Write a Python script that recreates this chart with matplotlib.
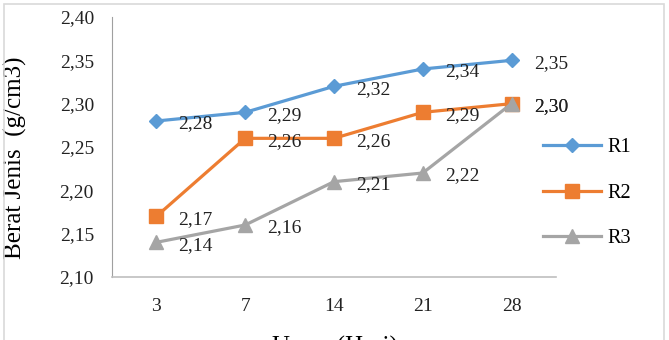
import matplotlib
matplotlib.use("Agg")
import matplotlib.pyplot as plt
from matplotlib.patches import Rectangle

# data
days = ["3", "7", "14", "21", "28"]
r1 = [2.28, 2.29, 2.32, 2.34, 2.35]
r2 = [2.17, 2.26, 2.26, 2.29, 2.30]
r3 = [2.14, 2.16, 2.21, 2.22, 2.30]
series_names = ["R1", "R2", "R3"]
yticks = [2.10, 2.15, 2.20, 2.25, 2.30, 2.35, 2.40]

colors = ["#5B9BD5", "#ED7D31", "#A5A5A5"]
markers = ["D", "s", "^"]
msizes = [7, 10, 10]

plt.rcParams["font.family"] = ["Liberation Serif", "DejaVu Serif"]

fig = plt.figure(figsize=(6.69, 3.40), dpi=100)
ax = fig.add_axes([0.1674, 0.1853, 0.6636, 0.7647])

x = list(range(len(days)))
for vals, name, c, m, ms in zip([r1, r2, r3], series_names, colors, markers, msizes):
    ax.plot(x, vals, color=c, lw=2.3, marker=m, markersize=ms, label=name)
    for xi, v in zip(x, vals):
        ax.annotate(("%.2f" % v).replace(".", ","), (xi, v), xytext=(16, -2),
                    textcoords="offset points", ha="left", va="center",
                    fontsize=14, color="#222222")

ax.set_xlim(-0.5, len(days) - 0.5)
ax.set_ylim(2.10, 2.40)
ax.set_xticks(x)
ax.set_xticklabels(days)
ax.set_yticks(yticks)
ax.set_yticklabels([("%.2f" % t).replace(".", ",") for t in yticks])
ax.tick_params(length=0, labelsize=14, labelcolor="#222222")
ax.tick_params(axis="x", pad=15)
ax.tick_params(axis="y", pad=13)
for s in ["top", "right"]:
    ax.spines[s].set_visible(False)
ax.spines["left"].set_color("#A0A0A0")
ax.spines["bottom"].set_color("#BFBFBF")
ax.spines["bottom"].set_linewidth(1.2)

ax.set_ylabel("Berat Jenis  (g/cm3)", fontsize=18)
ax.yaxis.set_label_coords(-0.191, 0.46)
fig.text(0.5, 0.012, "Umur (Hari)", ha="center", va="top", fontsize=18)

ax.legend(loc="center left", bbox_to_anchor=(0.971, 0.323), frameon=False,
          fontsize=14.5, handlelength=2.9, labelspacing=1.3, handletextpad=0.3,
          borderaxespad=0, borderpad=0)

fig.add_artist(Rectangle((0.006, -0.05), 0.986, 1.038, transform=fig.transFigure,
                         fill=False, edgecolor="#D9D9D9", lw=1.2))

fig.savefig("out.png", dpi=100)
